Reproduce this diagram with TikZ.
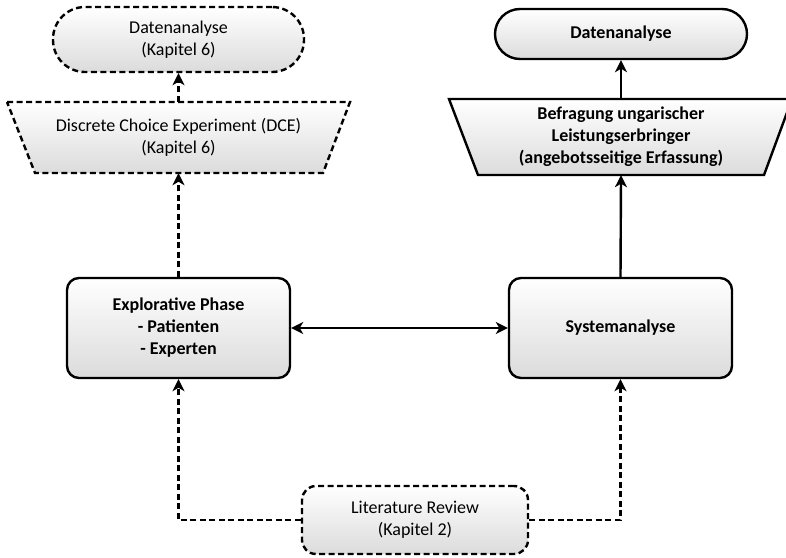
\documentclass[tikz,border=0pt]{standalone}
\usepackage{fontspec}
\setmainfont{Carlito}
\usetikzlibrary{arrows.meta}
\begin{document}
\begin{tikzpicture}[x=1pt,y=-1pt,
  lw/.style={line width=2.4pt},
  shade/.style={top color=white, bottom color=gray!28},
  fnt/.style={font=\fontsize{18}{22}\selectfont},
  fntb/.style={font=\fontsize{18}{22}\selectfont\bfseries},
  box/.style={draw=black, lw, shade, align=center, inner sep=0pt, fnt},
  txt/.style={align=center, inner sep=0pt, fnt},
  dsh/.style={dash pattern=on 6pt off 3.5pt},
  tip/.tip={Stealth[length=12pt,width=12pt,inset=3.5pt]},
  arr/.style={lw, -tip},
]
\useasboundingbox (0,0) rectangle (786,557);

% left column
\node[box, dsh, rounded corners=32pt, minimum width=251pt, minimum height=65pt] (da1) at (178.5,39.5) {Datenanalyse\\(Kapitel 6)};
\draw[lw, dsh, shade] (7,102) -- (350,102) -- (323,173) -- (35,173) -- cycle;
\node[txt, minimum width=288pt, minimum height=71pt] (dce) at (178.5,137.5) {Discrete Choice Experiment (DCE)\\(Kapitel 6)};
\node[box, fntb, rounded corners=12pt, minimum width=223pt, minimum height=100pt] (exp) at (178.5,328) {Explorative Phase\\- Patienten\\- Experten};

% right column
\node[box, fntb, rounded corners=25pt, minimum width=252pt, minimum height=50pt] (da2) at (621,34) {Datenanalyse};
\draw[lw, shade] (449,99) -- (792,99) -- (764,175) -- (478,175) -- cycle;
\node[txt, fntb, minimum width=282pt, minimum height=76pt] (bef) at (621,137) {Befragung ungarischer\\Leistungserbringer\\(angebotsseitige Erfassung)};
\node[box, fntb, rounded corners=12pt, minimum width=223pt, minimum height=100pt] (sys) at (620.5,328) {Systemanalyse};

% bottom
\node[box, dsh, rounded corners=14pt, minimum width=226pt, minimum height=68pt] (lit) at (415,520) {Literature Review\\(Kapitel 2)};

% connectors
\draw[arr, dsh] (dce.north) -- (da1.south);
\draw[arr, dsh] (exp.north) -- (dce.south);
\draw[arr] (bef.north) -- (da2.south);
\draw[arr] (sys.north) -- (bef.south);
\draw[lw, tip-tip] (exp.east) -- (sys.west);
\draw[arr, dsh] (lit.west) -| (exp.south);
\draw[arr, dsh] (lit.east) -| (sys.south);
\end{tikzpicture}
\end{document}
